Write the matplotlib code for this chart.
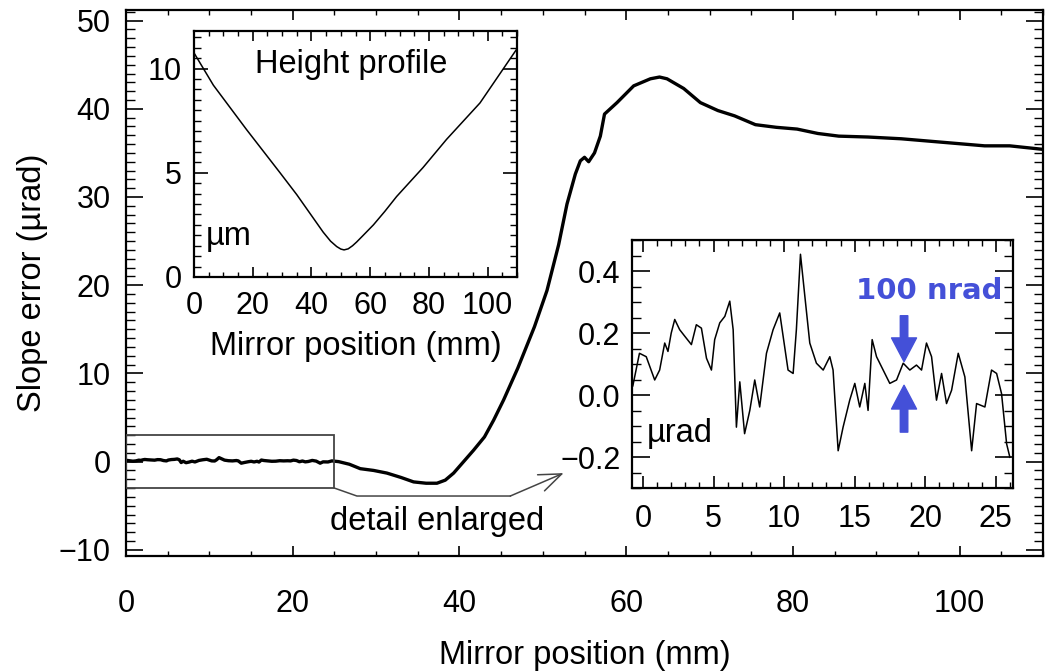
import matplotlib
matplotlib.use('Agg')
import matplotlib.pyplot as plt
from matplotlib.patches import Rectangle
from matplotlib.ticker import MultipleLocator

plt.rcParams['font.family'] = ['Liberation Sans', 'DejaVu Sans']
plt.rcParams['axes.unicode_minus'] = True

# enlarged detail, first ~26 mm of the mirror (urad)
detail_x = [-0.72, -0.25, 0.23, 0.83, 1.18, 1.54, 1.77, 2.0, 2.25, 2.6, 2.96, 3.43, 3.78, 4.14,
            4.5, 4.85, 5.08, 5.44, 5.8, 6.15, 6.39, 6.62, 6.86, 7.2, 7.57, 7.92, 8.27, 8.75,
            9.22, 9.69, 10.28, 10.64, 10.87, 11.16, 11.47, 11.82, 12.29, 12.77, 13.24, 13.47,
            13.83, 14.18, 14.65, 15.01, 15.36, 15.72, 15.95, 16.24, 16.55, 17.02, 17.49, 17.97,
            18.44, 18.91, 19.38, 19.74, 20.09, 20.45, 20.8, 21.16, 21.51, 21.87, 22.34, 22.81,
            23.29, 23.64, 24.23, 24.7, 25.06, 25.41, 25.77, 26.0]
detail_y = [0.03, 0.135, 0.124, 0.049, 0.081, 0.168, 0.141, 0.2, 0.244, 0.211, 0.19, 0.163,
            0.227, 0.216, 0.119, 0.081, 0.179, 0.233, 0.254, 0.303, 0.211, -0.103, 0.043,
            -0.124, -0.049, 0.049, -0.038, 0.135, 0.211, 0.265, 0.081, 0.07, 0.211, 0.454,
            0.319, 0.168, 0.103, 0.081, 0.124, 0.081, -0.179, -0.103, -0.016, 0.038, -0.038,
            0.038, -0.049, 0.179, 0.124, 0.081, 0.038, 0.049, 0.103, 0.081, 0.097, 0.081,
            0.168, 0.124, -0.016, 0.07, -0.027, 0.016, 0.135, 0.059, -0.179, -0.027, -0.038,
            0.081, 0.07, 0.005, -0.157, -0.2]

# slope error beyond the detail region (mm, urad)
tail_x = [25.5, 26.8, 28.1, 29.7, 31.3, 33.0, 34.5, 36.0, 37.3, 38.3, 39.3, 40.5, 41.7, 43.0,
          44.1, 45.3, 47.0, 49.0, 50.5, 51.9, 52.9, 53.9, 54.5, 55.0, 55.5, 56.2, 56.9, 57.4,
          58.9, 60.9, 62.9, 64.0, 64.9, 66.9, 68.9, 71.0, 73.0, 75.5, 78.0, 80.5, 83.0, 85.5,
          89.0, 93.0, 98.0, 103.0, 106.0, 110.0]
tail_y = [0.0, -0.3, -0.8, -1.0, -1.3, -1.8, -2.3, -2.45, -2.45, -2.1, -1.3, 0.0, 1.3, 2.8,
          4.7, 7.0, 10.6, 15.3, 19.4, 24.6, 29.2, 32.6, 34.1, 34.5, 34.0, 35.0, 36.9, 39.4,
          40.7, 42.6, 43.4, 43.6, 43.4, 42.3, 40.7, 39.8, 39.2, 38.2, 37.9, 37.7, 37.2, 36.9,
          36.8, 36.6, 36.2, 35.8, 35.8, 35.4]

# height profile inset (mm, um)
height_x = [0.0, 6.6, 17.9, 29.3, 35.0, 40.0, 44.0, 46.5, 48.6, 50.0, 51.1, 52.5, 54.0,
            55.4, 57.5, 61.1, 65.0, 69.0, 78.0, 86.0, 97.4, 110.0]
height_y = [10.75, 9.2, 7.07, 5.0, 3.95, 2.95, 2.15, 1.72, 1.46, 1.34, 1.3, 1.35, 1.5,
            1.68, 1.98, 2.5, 3.15, 3.86, 5.25, 6.6, 8.35, 10.95]

box_x = (0, 25)
box_y = (-3, 3)

FS = 22      # tick labels
LFS = 23.5   # axis labels and texts
W, H = 1055, 672
fig = plt.figure(figsize=(W / 100, H / 100), dpi=100)


def frac(l, t, r, b):
    return [l / W, 1 - b / H, (r - l) / W, (b - t) / H]


def style(a, xmaj, xmin, ymaj, ymin, xlen, ylen, xpad, ypad):
    a.xaxis.set_major_locator(MultipleLocator(xmaj))
    a.xaxis.set_minor_locator(MultipleLocator(xmin))
    a.yaxis.set_major_locator(MultipleLocator(ymaj))
    a.yaxis.set_minor_locator(MultipleLocator(ymin))
    a.tick_params(which='both', direction='in', top=True, right=True, labelsize=FS, color='black')
    a.tick_params(axis='x', which='major', length=xlen, width=1.2, pad=xpad)
    a.tick_params(axis='x', which='minor', length=xlen / 2, width=1.0)
    a.tick_params(axis='y', which='major', length=ylen, width=1.2, pad=ypad)
    a.tick_params(axis='y', which='minor', length=ylen / 2, width=1.0)
    for s in a.spines.values():
        s.set_linewidth(1.6)


# main plot
ax = fig.add_axes(frac(126, 10, 1043, 556))
main_x = [x for x in detail_x if 0 <= x <= 25] + tail_x
main_y = [y for x, y in zip(detail_x, detail_y) if 0 <= x <= 25] + tail_y
ax.plot(main_x, main_y, color='black', lw=2.4)
ax.set_xlim(0, 110)
ax.set_ylim(-10.7, 51.2)
style(ax, 20, 5, 10, 1, 7.5, 12.5, 24, 11)
ax.set_yticks(range(-10, 51, 10))
ax.set_xlabel('Mirror position (mm)', fontsize=LFS, labelpad=15)
ax.set_ylabel('Slope error (µrad)', fontsize=LFS, labelpad=8)

ax.add_patch(Rectangle((box_x[0], box_y[0]), box_x[1] - box_x[0], box_y[1] - box_y[0],
                       fill=False, ec='#444444', lw=1.3, zorder=3))
ax.plot([25, 27.7, 46.1], [-3, -3.9, -3.9], color='#444444', lw=1.1)
ax.annotate('', xy=(52.5, -1.3), xytext=(46.1, -3.9),
            arrowprops=dict(arrowstyle='->,head_length=0.9,head_width=0.35', color='#444444',
                            lw=1.1, shrinkA=0, shrinkB=0, mutation_scale=18))
ax.text(37.3, -6.8, 'detail enlarged', fontsize=LFS, ha='center', va='center')

# height profile inset
ax1 = fig.add_axes(frac(194, 31, 517, 277))
ax1.plot(height_x, height_y, color='black', lw=1.1)
ax1.set_xlim(0, 110)
ax1.set_ylim(0, 11.8)
style(ax1, 20, 5, 5, 0.5, 7.5, 10, 10, 9)
ax1.set_xlabel('Mirror position (mm)', fontsize=LFS, labelpad=7)
ax1.text(53.7, 10.2, 'Height profile', fontsize=LFS, ha='center', va='center')
ax1.text(4.0, 1.95, 'µm', fontsize=LFS, ha='left', va='center')

# detail inset
ax2 = fig.add_axes(frac(631.7, 240, 1012.7, 488.3))
ax2.plot(detail_x, detail_y, color='black', lw=1.1)
ax2.set_xlim(-0.8, 26.2)
ax2.set_ylim(-0.3, 0.5)
style(ax2, 5, 1, 0.2, 0.05, 8.5, 13, 11, 8)
ax2.text(0.3, -0.123, 'µrad', fontsize=LFS, ha='left', va='center')

blue = '#4450d8'
ax2.text(20.3, 0.335, '100 nrad', fontsize=21, color=blue, fontweight='bold',
         family='DejaVu Sans', ha='center', va='center')
arrow = dict(arrowstyle='simple,head_length=0.95,head_width=1.0,tail_width=0.3',
             color=blue, shrinkA=0, shrinkB=0, mutation_scale=18)
ax2.annotate('', xy=(18.5, 0.108), xytext=(18.5, 0.256), arrowprops=arrow)
ax2.annotate('', xy=(18.5, 0.032), xytext=(18.5, -0.119), arrowprops=arrow)

fig.savefig('out.png', dpi=100)
